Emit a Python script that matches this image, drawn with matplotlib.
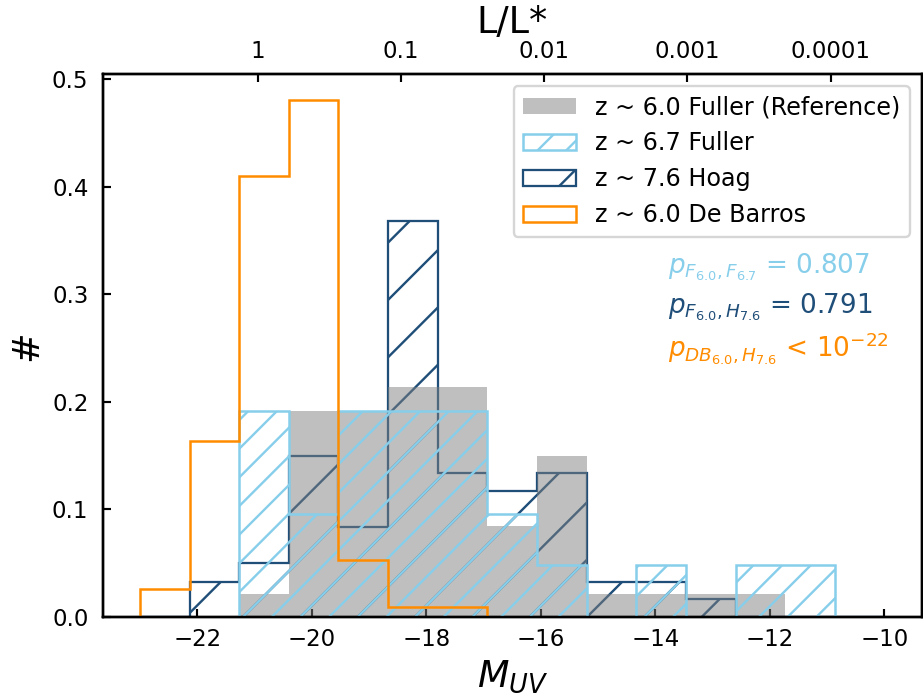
import numpy as np
import matplotlib

matplotlib.use("Agg")

import matplotlib.pyplot as plt

# bin edges of the histograms (M_UV)
bins = np.linspace(-23, -10, 16)

# normalised counts per bin
fuller_60 = [0, 0, 0.021, 0.192, 0.192, 0.214, 0.214, 0.085, 0.150, 0.021, 0.021, 0.021, 0.021, 0, 0]
fuller_67 = [0, 0, 0.192, 0.096, 0.192, 0.192, 0.192, 0.096, 0.048, 0, 0.048, 0, 0.048, 0.048, 0]
hoag_76 = [0, 0.033, 0.050, 0.150, 0.084, 0.368, 0.134, 0.117, 0.134, 0.033, 0.033, 0.017, 0, 0, 0]
debarros_60 = [0.026, 0.164, 0.410, 0.481, 0.053, 0.009, 0.009, 0, 0, 0, 0, 0, 0, 0, 0]

# top axis: L/L* ticks (M* = -20.94)
m_star = -20.94
l_ticks = [1, 0.1, 0.01, 0.001, 0.0001]
l_labels = ["1", "0.1", "0.01", "0.001", "0.0001"]

LIGHT = "#87ceeb"
DARK = "#1f4e79"
ORANGE = "#ff8c00"

DPI = 172
plt.rcParams["hatch.linewidth"] = 1.0
plt.rcParams["axes.linewidth"] = 1.0

fig = plt.figure(figsize=(923 / DPI, 696 / DPI), dpi=DPI)
ax = fig.add_axes([0.1113, 0.1135, 0.8873, 0.7802])

centers = bins[:-1]
_, _, p_hoag = ax.hist(centers, bins=bins, weights=hoag_76, histtype="step",
                       edgecolor=DARK, hatch="/", lw=0.95, zorder=1)
_, _, p_ref = ax.hist(centers, bins=bins, weights=fuller_60, histtype="stepfilled",
                      color="gray", alpha=0.5, lw=0, zorder=2)
_, _, p_f67 = ax.hist(centers, bins=bins, weights=fuller_67, histtype="step",
                      edgecolor=LIGHT, hatch="//", lw=1.05, zorder=3)
_, _, p_db = ax.hist(centers, bins=bins, weights=debarros_60, histtype="step",
                     edgecolor=ORANGE, lw=1.05, zorder=4)

ax.set_xticks([-22, -20, -18, -16, -14, -12, -10])
ax.tick_params(direction="in", length=3.3, width=0.9, labelsize=9.6, pad=4.5)
ax.tick_params(axis="y", pad=6)
ax.set_xlabel("$M_{UV}$", fontsize=15.3, labelpad=3)
ax.set_ylabel("#", fontsize=15.3, labelpad=3)

ax.legend([p_ref[0], p_f67[0], p_hoag[0], p_db[0]],
          ["z ~ 6.0 Fuller (Reference)", "z ~ 6.7 Fuller",
           "z ~ 7.6 Hoag", "z ~ 6.0 De Barros"],
          loc="upper right", fontsize=10, handlelength=2.2, frameon=True)

tx = 0.69
ax.text(tx, 0.645, r"$p_{F_{6.0},F_{6.7}}$ = 0.807", color=LIGHT,
        fontsize=11, transform=ax.transAxes, va="center")
ax.text(tx, 0.571, r"$p_{F_{6.0},H_{7.6}}$ = 0.791", color=DARK,
        fontsize=11, transform=ax.transAxes, va="center")
ax.text(tx, 0.494, r"$p_{DB_{6.0},H_{7.6}}$ < $10^{-22}$", color=ORANGE,
        fontsize=11, transform=ax.transAxes, va="center")

ax2 = ax.twiny()
ax2.set_xlim(ax.get_xlim())
ax2.set_xticks([m_star - 2.5 * np.log10(l) for l in l_ticks])
ax2.set_xticklabels(l_labels)
ax2.tick_params(direction="in", length=3.3, width=0.9, labelsize=9.6, pad=4.5)
ax2.set_xlabel("L/L*", fontsize=15.3, labelpad=3)

fig.savefig("out.png", dpi=DPI)
